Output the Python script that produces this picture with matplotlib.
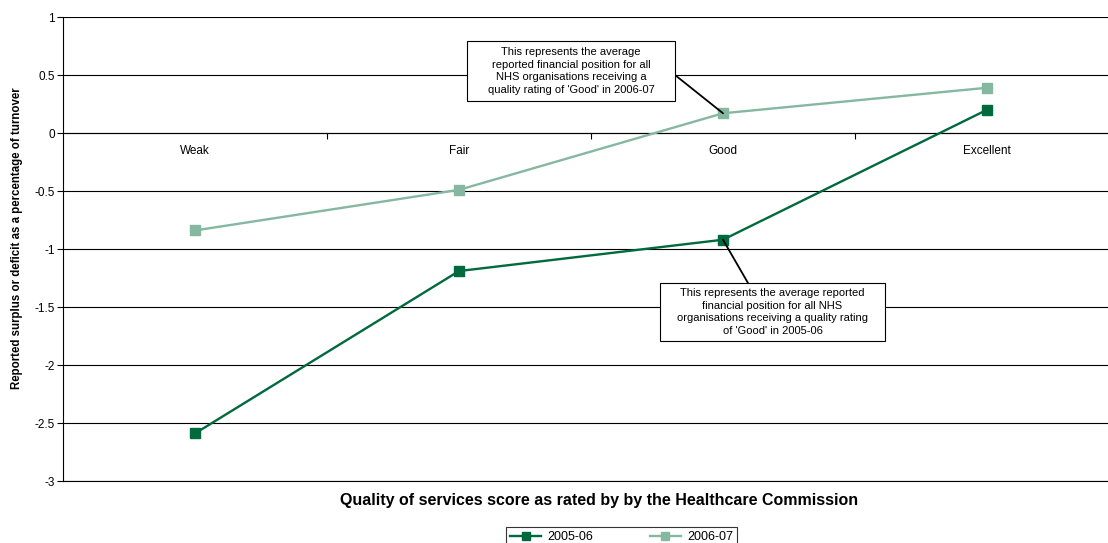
import matplotlib
matplotlib.use('Agg')
import matplotlib.pyplot as plt
from matplotlib.patches import Rectangle
import numpy as np

plt.rcParams['font.family'] = ['Liberation Sans', 'DejaVu Sans']

categories = ['Weak', 'Fair', 'Good', 'Excellent']
series_names = ['2005-06', '2006-07']
values_0506 = [-2.59, -1.19, -0.92, 0.20]
values_0607 = [-0.84, -0.49, 0.17, 0.39]
yticks = [1, 0.5, 0, -0.5, -1, -1.5, -2, -2.5, -3]

note_0607 = "This represents the average\nreported financial position for all\nNHS organisations receiving a\nquality rating of 'Good' in 2006-07"
note_0506 = "This represents the average reported\nfinancial position for all NHS\norganisations receiving a quality rating\nof 'Good' in 2005-06"

dark_green = '#00693E'
light_green = '#86B7A0'

W, H = 1108, 543
fig = plt.figure(figsize=(W / 100, H / 100), dpi=100)
# axes spans past the right edge of the picture, as in the original
left, right, top, bottom = 63, 1119, 17, 481
ax = fig.add_axes([left / W, 1 - bottom / H, (right - left) / W, (bottom - top) / H])


def px(xp, yp):
    # picture pixel -> axes fraction
    return (xp - left) / (right - left), (bottom - yp) / (bottom - top)


x = np.arange(len(categories))
ax.plot(x, values_0506, '-s', color=dark_green, linewidth=1.7, markersize=7.5, label=series_names[0], zorder=3)
ax.plot(x, values_0607, '-s', color=light_green, linewidth=1.7, markersize=7.5, label=series_names[1], zorder=3)

ax.set_xlim(-0.5, 3.5)
ax.set_ylim(-3, 1)
ax.set_yticks(yticks)
ax.set_yticklabels([f'{v:g}' for v in yticks], fontsize=8.5)
ax.yaxis.grid(True, color='black', linewidth=0.8)
ax.axhline(-3, color='black', linewidth=0.8, clip_on=False)
ax.set_axisbelow(True)
ax.tick_params(axis='y', direction='out', length=4, width=0.8, pad=2)

# category axis crosses at zero
ax.spines['bottom'].set_position(('data', 0))
ax.spines['top'].set_visible(False)
ax.spines['right'].set_visible(False)
ax.spines['left'].set_linewidth(0.8)
ax.spines['bottom'].set_linewidth(0.8)
ax.set_xticks([0.5, 1.5, 2.5])
ax.set_xticklabels([])
ax.tick_params(axis='x', direction='out', length=4, width=0.8)
for i, c in enumerate(categories):
    ax.text(i, -0.1, c, ha='center', va='top', fontsize=8.5)

fig.text(17 / W, 1 - 238 / H, 'Reported surplus or deficit as a percentage of turnover',
         rotation=90, ha='center', va='center', fontsize=8.3, fontweight='bold')
fig.text(599 / W, 1 - 501 / H, 'Quality of services score as rated by by the Healthcare Commission',
         ha='center', va='center', fontsize=11.5, fontweight='bold')

# annotation boxes (text box + connector line)
for note, yv, (bx0, by0, bx1, by1), (sx, sy) in [
        (note_0607, values_0607[2], (467, 41, 675, 101), (675, 75)),
        (note_0506, values_0506[2], (660, 283, 885, 341), (748, 283))]:
    x0, y0 = px(bx0, by1)
    x1, y1 = px(bx1, by0)
    ax.add_patch(Rectangle((x0, y0), x1 - x0, y1 - y0, transform=ax.transAxes,
                           facecolor='white', edgecolor='black', linewidth=0.8, zorder=5))
    ax.text((x0 + x1) / 2, (y0 + y1) / 2, note, transform=ax.transAxes, ha='center', va='center',
            fontsize=8, linespacing=1.35, zorder=6)
    ax.annotate('', xy=(2, yv), xycoords='data', xytext=px(sx, sy), textcoords='axes fraction',
                arrowprops=dict(arrowstyle='-', color='black', linewidth=1.3, shrinkA=0, shrinkB=0),
                zorder=4)

leg = fig.legend(loc='upper center', bbox_to_anchor=(621.5 / W, 1 - 527 / H), ncol=2, fontsize=9,
                 frameon=True, fancybox=False, edgecolor='black', columnspacing=4.5, handlelength=2.5,
                 handletextpad=0.5, markerscale=0.75, borderaxespad=0, borderpad=0.35)
leg.get_frame().set_linewidth(0.8)

fig.savefig('out.png', dpi=100)
